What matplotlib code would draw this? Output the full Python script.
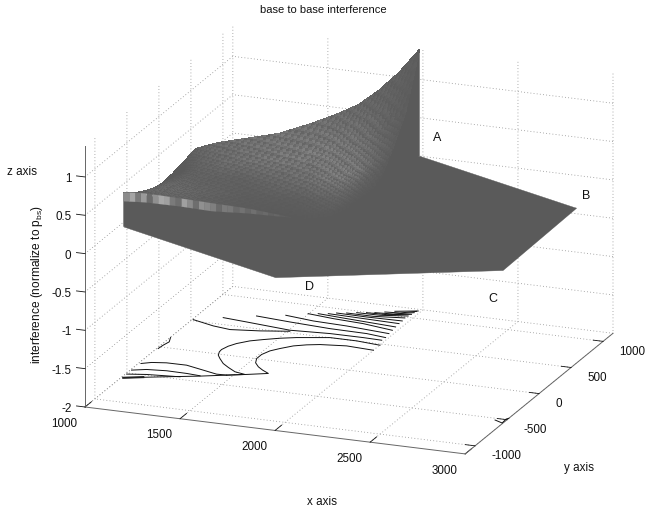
import numpy as np
import matplotlib
matplotlib.use("Agg")
import matplotlib.pyplot as plt
from mpl_toolkits.mplot3d import proj3d
from mpl_toolkits.mplot3d.art3d import Poly3DCollection

plt.rcParams['font.family'] = ['Liberation Sans', 'DejaVu Sans']
plt.rcParams['mathtext.fontset'] = 'custom'
plt.rcParams['mathtext.rm'] = 'Liberation Sans'
plt.rcParams['mathtext.it'] = 'Liberation Sans'
plt.rcParams['axes.unicode_minus'] = False

W, H = 645, 512
HEX_R = 1154.7          # hexagonal cell: y limits
Y_UNIT = HEX_R / 1000   # y values below are read in thousandths of the cell radius

x_ticks = [1000, 1500, 2000, 2500, 3000]
y_ticks = [-1000, -500, 0, 500, 1000]
z_ticks = [-2, -1.5, -1, -0.5, 0, 0.5, 1]
z_tick_labels = ['-2', '-1.5', '-1', '-0.5', '0', '0.5', '1']

# flat cell floor of the surface (A, B, C, D, E, F)
cell_x = [1985, 3000, 3000, 2001, 1020, 1000]
cell_y = [992, 500, -494, -1001, -530, 500]
cell_z = [0.01, 0.03, 0.0, 0.0, -0.01, 0.0]

# raised sheet, back edge -> valley
back_x = [1985, 1894, 1806, 1718, 1630, 1511, 1366, 1221, 1101, 1000, 1000, 1000, 1000, 1000, 1020]
back_y = [992, 947, 902, 859, 815, 755, 683, 610, 551, 500, 378, 189, 14, -189, -530]
valley_x = [1972, 1950, 1930, 1905, 1840, 1771, 1630, 1498, 1360, 1230, 1150, 1100, 1070, 1040, 1020]
valley_y = [260, 170, 80, -14, -70, -115, -100, -89, -85, -78, -150, -300, -400, -470, -530]
z_row0 = [1.396, 1.10, 0.878, 0.702, 0.593, 0.473, 0.354, 0.302, 0.259, 0.19, 0.156, 0.11, 0.09, 0.147, 0.436]
z_row1 = [0.706, 0.55, 0.45, 0.38, 0.32, 0.26, 0.20, 0.17, 0.14, 0.11, 0.11, 0.13, 0.15, 0.20, 0.436]
z_row2 = [0.34, 0.25, 0.20, 0.16, 0.14, 0.12, 0.10, 0.09, 0.08, 0.06, 0.10, 0.17, 0.22, 0.27, 0.436]
z_row3 = [0.04, 0.07, 0.06, 0.05, 0.04, 0.04, 0.04, 0.03, 0.03, 0.02, 0.10, 0.21, 0.28, 0.33, 0.436]
z_row4 = [0.0, 0.0, 0.0, 0.0, 0.0, 0.0, 0.0, 0.0, 0.0, 0.0, 0.11, 0.25, 0.335, 0.395, 0.436]
grey_rows = [
    [0x5d, 0x60, 0x62, 0x66, 0x6a, 0x6e, 0x70, 0x6e, 0x6a, 0x62, 0x5b, 0x5a, 0x5a, 0x5a, 0x5a],
    [0x5d, 0x62, 0x6a, 0x70, 0x74, 0x75, 0x72, 0x6d, 0x67, 0x60, 0x5a, 0x5a, 0x5a, 0x5a, 0x5a],
    [0x5d, 0x65, 0x70, 0x75, 0x72, 0x6a, 0x65, 0x60, 0x60, 0x61, 0x63, 0x63, 0x60, 0x5a, 0x5a],
    [0x5a, 0x5d, 0x61, 0x62, 0x60, 0x5d, 0x5d, 0x5d, 0x60, 0x63, 0x66, 0x66, 0x63, 0x5d, 0x5a],
    [0x5a, 0x5a, 0x5a, 0x5a, 0x5a, 0x5a, 0x5a, 0x5b, 0x5d, 0x60, 0x63, 0x63, 0x60, 0x5d, 0x5a],
]

# banded lip from E towards the valley
lip_t = [0, 0.123, 0.325, 0.515, 0.71, 1]
lip_top = [0.436, 0.411, 0.326, 0.242, 0.159, 0.0]
lip_bot = [0.319, 0.294, 0.221, 0.138, 0.094, 0.0]
lip_start = (1020, -530)
lip_end = (1771, -115)
lip_grey = [0x8c, 0xa5, 0x7a, 0x9a, 0x6b, 0x90, 0xa8, 0xa0, 0x7a, 0x6e, 0xa0, 0x8a, 0x6e, 0x90, 0x88,
            0x7f, 0x6a, 0x7a, 0x78, 0x6a, 0x72, 0x68, 0x70, 0x66, 0x6a, 0x62, 0x66, 0x60, 0x5e, 0x5c]

# contour lines on the floor
contour_x = [
    [1005, 1132, 1229, 1373, 1512],
    [1131, 1262, 1507, 1708, 1883, 1982],
    [1274, 1460, 1680, 1876, 1985],
    [1404, 1561, 1742, 1978],
    [1497, 1640, 1805, 1975],
    [1543, 1700, 1971],
    [1589, 1741, 1968],
    [1623, 1783, 1968],
    [1669, 1809, 1963],
    [1713, 1834, 1967],
    [1758, 1861, 1973],
    [1796, 1888, 1976],
    [1838, 1913, 1980],
    [1880, 1985],
    [2002, 1871, 1731, 1578, 1506, 1437, 1383, 1337, 1314, 1302, 1305, 1319, 1345, 1388, 1434, 1488, 1549, 1469, 1352, 1189, 1011],
    [2000, 1853, 1724, 1665, 1610, 1563, 1531, 1513, 1513, 1532, 1567, 1605, 1650, 1556, 1469],
    [1012, 1055, 1125, 1230, 1334, 1417, 1469],
    [1006, 1071, 1170, 1277, 1351],
    [1006, 1099, 1215, 1265],
    [1007, 1011, 1020, 1002],
    [2947, 2996, 2992, 3000],
]
contour_y = [
    [451, 396, 373, 407, 455],
    [533, 512, 470, 493, 494, 489],
    [616, 589, 564, 558, 534],
    [678, 645, 632, 597],
    [741, 714, 695, 651],
    [759, 738, 705],
    [777, 770, 759],
    [801, 797, 803],
    [819, 818, 851],
    [842, 845, 885],
    [859, 866, 915],
    [874, 887, 944],
    [901, 914, 967],
    [929, 975],
    [414, 435, 435, 376, 337, 288, 245, 183, 130, 70, 33, -17, -62, -128, -176, -226, -247, -289, -351, -426, -511],
    [330, 345, 317, 289, 250, 188, 137, 70, 3, -60, -113, -153, -191, -244, -289],
    [-274, -240, -219, -217, -259, -293, -289],
    [-386, -350, -333, -336, -346],
    [-452, -422, -404, -396],
    [-28, 29, 88, 152],
    [-459, -489, -425, -410],
]
heavy_x = [1011, 1099]
heavy_y = [-511, -466]

corner_labels = ['A', 'B', 'C', 'D']
corner_pos = [(437, 138), (586, 196), (493, 299), (309, 287)]

DARK = '#5a5a5a'
Z0 = -2

fig = plt.figure(figsize=(W / 100, H / 100), dpi=100)
ax = fig.add_axes([0.1, 0.0, 500 / W, 500 / H], projection='3d', computed_zorder=False)
ax.set_proj_type('ortho')
ax.view_init(elev=18.5, azim=-68.75)
ax.set_box_aspect((408, 408, 275))
ax.set_xlim(1000, 3000, view_margin=0)
ax.set_ylim(-HEX_R, HEX_R, view_margin=0)
ax.set_zlim(-2, 1.4, view_margin=0)
ax.patch.set_alpha(0)

# fit the box onto the reference's pixel corners
def fit():
    M = ax.get_proj()
    ax.apply_aspect()
    pts = []
    for p in [(1000, -HEX_R, -2), (3000, HEX_R, 1.4)]:
        a, b, _ = proj3d.proj_transform(*p, M)
        pts.append(ax.transAxes.inverted().transform(ax.transData.transform((a, b))))
    (u0, v0), (u1, v1) = pts
    s = (613 - 85) / (u1 - u0)
    l = 85 - u0 * s
    b = (H - 407) - v0 * s
    ax.set_position([l / W, b / H, s / W, s / H])
fit()

tick_factor = {'x': 0.55, 'y': 0.32, 'z': 0.28}
for name, axis in (('x', ax.xaxis), ('y', ax.yaxis), ('z', ax.zaxis)):
    axis.set_pane_color((1, 1, 1, 0))
    axis.pane.set_edgecolor('none')
    axis.line.set_color('#666666')
    axis.line.set_linewidth(0.7)
    axis._axinfo['grid'].update(color='#8f8f8f', linewidth=0.6, linestyle=(0, (1, 2.8)))
    axis._axinfo['tick'].update(inward_factor=0.0, outward_factor=tick_factor[name])
    axis._axinfo['tick']['linewidth'] = {True: 0.6, False: 0.5}
    axis._axinfo['tick']['color'] = '#666666'

ax.set_xticks(x_ticks)
ax.set_yticks(y_ticks)
ax.set_zticks(z_ticks)
ax.set_zticklabels(z_tick_labels)
ax.tick_params(axis='x', labelsize=8.4, colors='#111111', pad=4)
ax.tick_params(axis='y', labelsize=8.4, colors='#111111', pad=2)
ax.tick_params(axis='z', labelsize=8.4, colors='#111111', pad=-2)
ax.zaxis.set_ticks_position('lower')
ax.zaxis._get_tickdir = lambda position: 0   # z ticks run along x, as in the reference
for t in ax.get_xticklabels():
    t.set_ha('right'); t.set_va('baseline')
for t in ax.get_yticklabels():
    t.set_ha('left'); t.set_va('baseline')
for t in ax.get_zticklabels():
    t.set_ha('right'); t.set_va('center')

# floor contours
for cx, cy in zip(contour_x, contour_y):
    cy = np.array(cy) * Y_UNIT
    ax.plot(cx, cy, np.full(len(cx), Z0), color='#111111', lw=0.7, zorder=2)
ax.plot(heavy_x, np.array(heavy_y) * Y_UNIT, [Z0, Z0], color='#222222', lw=1.5, zorder=2)

# flat cell
cy = np.array(cell_y) * Y_UNIT
ax.add_collection3d(Poly3DCollection([list(zip(cell_x, cy, cell_z))],
                                     facecolors=DARK, edgecolors=DARK, linewidths=0.3, zorder=3))

# side walls: cliff at A, step at C, wall at E
walls = [
    [(back_x[0], back_y[0], z_row0[0]), (cell_x[0], cell_y[0], cell_z[0]), (valley_x[0], valley_y[0], 0)],
    [(cell_x[1], cell_y[1], cell_z[1]), (cell_x[2], cell_y[2], 0.10), (cell_x[2], cell_y[2], cell_z[2])],
    [(lip_start[0], lip_start[1], lip_top[0]), (cell_x[4], cell_y[4], cell_z[4]), (lip_end[0], lip_end[1], 0)],
]
walls = [[(a, b * Y_UNIT, c) for a, b, c in w] for w in walls]
ax.add_collection3d(Poly3DCollection(walls, facecolors=DARK, edgecolors=DARK, linewidths=0.3, zorder=4))

# raised sheet: each read cell is drawn as a fine facet mesh with a moire-like weave
Z = np.array([z_row0, z_row1, z_row2, z_row3, z_row4])
G = np.array(grey_rows, dtype=float)
bx, by = np.array(back_x, float), np.array(back_y, float)
vx, vy = np.array(valley_x, float), np.array(valley_y, float)
SUB = 10
ns, nr = Z.shape[1], Z.shape[0]
su = np.linspace(0, ns - 1, (ns - 1) * SUB + 1)
rv = np.linspace(0, nr - 1, (nr - 1) * SUB + 1)
s_i = np.arange(ns)
r_i = np.arange(nr)
Zs = np.array([np.interp(su, s_i, row) for row in Z])
Gs = np.array([np.interp(su, s_i, row) for row in G])
Zf = np.array([np.interp(rv, r_i, Zs[:, j]) for j in range(len(su))]).T
Gf = np.array([np.interp(rv, r_i, Gs[:, j]) for j in range(len(su))]).T
bxf, byf = np.interp(su, s_i, bx), np.interp(su, s_i, by)
vxf, vyf = np.interp(su, s_i, vx), np.interp(su, s_i, vy)
w = (rv / (nr - 1))[:, None]
Xf = bxf[None, :] * (1 - w) + vxf[None, :] * w
Yf = (byf[None, :] * (1 - w) + vyf[None, :] * w) * Y_UNIT
polys, cols = [], []
for r in range(Zf.shape[0] - 1):
    for c in range(Zf.shape[1] - 1):
        polys.append([(Xf[i, j], Yf[i, j], Zf[i, j]) for i, j in
                      [(r, c), (r, c + 1), (r + 1, c + 1), (r + 1, c)]])
        weave = ((3 * r + 5 * c) % 7) / 6 - 0.5
        g = Gf[r, c] + (Gf[r, c] - 0x5a) * 1.0 * weave
        g = float(np.clip(g, 0x58, 0x90)) / 255
        cols.append((g, g, g))
ax.add_collection3d(Poly3DCollection(polys, facecolors=cols, edgecolors=cols, linewidths=0.3,
                                     antialiaseds=False, zorder=5))

# banded lip
edges = np.linspace(0, 1, len(lip_grey) + 1)
lx = lip_start[0] + (lip_end[0] - lip_start[0]) * edges
ly = (lip_start[1] + (lip_end[1] - lip_start[1]) * edges) * Y_UNIT
ltop = np.interp(edges, lip_t, lip_top)
lbot = np.interp(edges, lip_t, lip_bot)
lpolys, lcols = [], []
for i, g in enumerate(lip_grey):
    lpolys.append([(lx[i], ly[i], ltop[i]), (lx[i + 1], ly[i + 1], ltop[i + 1]),
                   (lx[i + 1], ly[i + 1], lbot[i + 1]), (lx[i], ly[i], lbot[i])])
    lcols.append((g / 255, g / 255, g / 255))
ax.add_collection3d(Poly3DCollection(lpolys, facecolors=lcols, edgecolors=lcols, linewidths=0.1, zorder=6))

ax.set_xlim(1000, 3000, view_margin=0)
ax.set_ylim(-HEX_R, HEX_R, view_margin=0)
ax.set_zlim(-2, 1.4, view_margin=0)

def ptext(px, py, s, **kw):
    kw.setdefault('ha', 'center')
    kw.setdefault('va', 'center')
    kw.setdefault('fontsize', 8.4)
    kw.setdefault('color', '#111111')
    fig.text(px / W, 1 - py / H, s, **kw)

ptext(323, 10, 'base to base interference', fontsize=8)
ptext(322, 502, 'x axis')
ptext(579, 468, 'y axis')
ptext(22, 172, 'z axis')
ptext(37, 284, r'interference (normalize to p$_{\mathrm{bs}}$)', rotation=90, fontsize=8.6)
for s, (px, py) in zip(corner_labels, corner_pos):
    ptext(px, py, s, fontsize=9)

fig.savefig('out.png', dpi=100)
